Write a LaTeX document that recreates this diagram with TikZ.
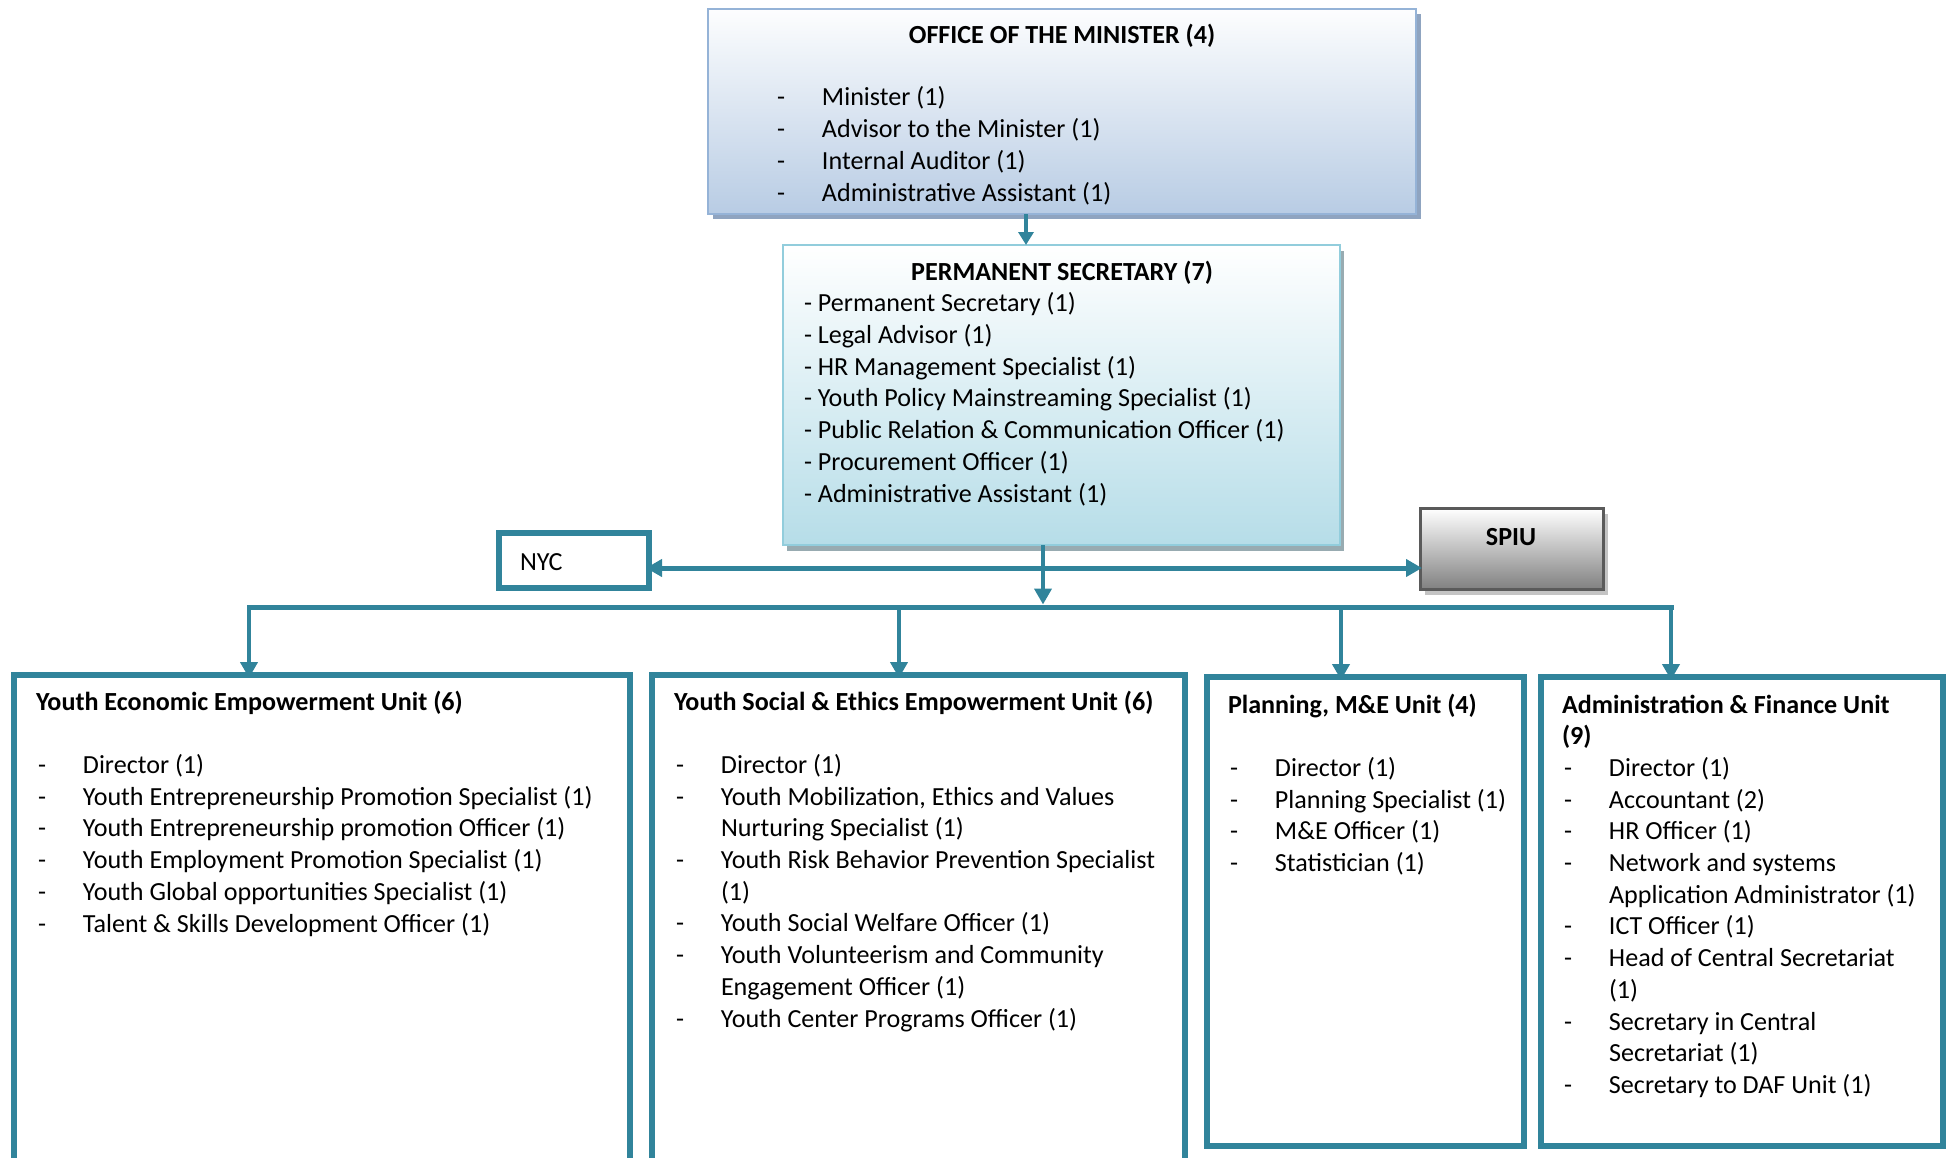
\documentclass[tikz,border=0pt]{standalone}
\usepackage{fontspec}
\setmainfont{Carlito}
\usetikzlibrary{arrows.meta,shadows}
\definecolor{tealL}{HTML}{31849B}
\definecolor{offB}{HTML}{B8CCE4}
\definecolor{offBorder}{HTML}{95B3D7}
\definecolor{offShadow}{HTML}{8FA4C0}
\definecolor{psB}{HTML}{B6DDE8}
\definecolor{psBorder}{HTML}{92CDDC}
\definecolor{psShadow}{HTML}{98ABB1}
\definecolor{spiuB}{HTML}{808080}
\definecolor{spiuBorder}{HTML}{5A5A5A}
\definecolor{spiuShadow}{HTML}{C4C4C4}
\newcommand\itm[1]{\makebox[47pt][l]{\hspace{2pt}-}#1}
\newcommand\cnt[1]{\makebox[47pt][l]{}#1}
\tikzset{
  txt/.style={inner sep=0pt, outer sep=0pt, align=left, anchor=base west,
    font=\fontsize{26.1}{31.7}\selectfont},
  boxN/.style={rectangle, inner sep=0pt, outer sep=0pt, anchor=north west},
  unitbox/.style={boxN, draw=tealL, line width=6pt, fill=white},
  conn/.style={draw=tealL, line width=4pt},
  tipA/.style={-{Triangle[length=16pt,width=17pt]}},
}
\begin{document}
\begin{tikzpicture}[x=1pt,y=-1pt]
\useasboundingbox (0,0) rectangle (1950,1157);
% boxes
\node[boxN, draw=offBorder, line width=2pt, top color=white!97!offB, bottom color=offB,
  minimum width=708pt, minimum height=205pt,
  drop shadow={shadow xshift=5pt, shadow yshift=-5pt, fill=offShadow, opacity=1}] (office) at (708,9) {};
\node[boxN, draw=psBorder, line width=2.5pt, top color=white, bottom color=psB,
  minimum width=557pt, minimum height=300pt,
  drop shadow={shadow xshift=4pt, shadow yshift=-6pt, fill=psShadow, opacity=1}] (ps) at (783,245) {};
\node[boxN, draw=tealL, line width=6pt, fill=white, minimum width=150pt, minimum height=55pt] (nyc) at (499,533) {};
\node[boxN, draw=spiuBorder, line width=3pt, top color=white, bottom color=spiuB,
  minimum width=183pt, minimum height=81pt,
  drop shadow={shadow xshift=4pt, shadow yshift=-5pt, fill=spiuShadow, opacity=1}] (spiu) at (1420.5,508.5) {};
\node[unitbox, minimum width=616pt, minimum height=510pt] (u1) at (14,675) {};
\node[unitbox, minimum width=533pt, minimum height=510pt] (u2) at (652,675) {};
\node[unitbox, minimum width=317pt, minimum height=469pt] (u3) at (1207,677) {};
\node[unitbox, minimum width=402pt, minimum height=469pt] (u4) at (1541,677) {};
% coordinates
\coordinate (a1) at (1026,0);
\coordinate (s1) at (1043,0);
\coordinate (dy) at (0,568);
\coordinate (busL) at (249,607);
\coordinate (busR) at (1671,607);
\coordinate (b2) at (899,607);
\coordinate (b3) at (1341,607);
% connectors
\draw[conn, line width=4pt, -{Triangle[length=13pt,width=15pt]}] (office.south -| a1) -- (ps.north -| a1);
\draw[conn, line width=5pt, line cap=rect] (busL) -- (busR);
\draw[conn, line width=4.5pt, tipA, shorten >=2.5pt] (ps.south -| s1) -- (s1 |- busL);
\draw[conn, line width=5pt, {Triangle[length=16pt,width=17pt]}-{Triangle[length=16pt,width=17pt]},
  shorten <=-3pt, shorten >=-1.5pt] (nyc.east |- dy) -- (spiu.west |- dy);
\draw[conn, line width=4pt, tipA, shorten >=-3pt] (busL) -- (u1.north -| busL);
\draw[conn, line width=4pt, tipA, shorten >=-3pt] (b2) -- (u2.north -| b2);
\draw[conn, line width=4pt, tipA, shorten >=-3pt] (b3) -- (u3.north -| b3);
\draw[conn, line width=4pt, tipA, shorten >=-3pt] (busR) -- (u4.north -| busR);
% texts (base anchor = baseline of the last line)
\node[txt, anchor=base, font=\fontsize{26.1}{31.7}\selectfont\bfseries] (offt) at (1062,43) {OFFICE OF THE MINISTER (4)};
\node[txt] (offi) at (775,201) {\itm{Minister (1)}\\ \itm{Advisor to the Minister (1)}\\ \itm{Internal Auditor (1)}\\ \itm{Administrative Assistant (1)}};
\node[txt, anchor=base, font=\fontsize{26.1}{31.7}\selectfont\bfseries] (pst) at (1062,280) {PERMANENT SECRETARY (7)};
\node[txt] (psi) at (804,502) {- Permanent Secretary (1)\\ - Legal Advisor (1)\\ - HR Management Specialist (1)\\ - Youth Policy Mainstreaming Specialist (1)\\ - Public Relation \& Communication Officer (1)\\ - Procurement Officer (1)\\ - Administrative Assistant (1)};
\node[txt] (nyct) at (520,570) {NYC};
\node[txt, anchor=base, font=\fontsize{26.1}{31.7}\selectfont\bfseries] (spiut) at (1511,545) {SPIU};
\node[txt] (u1t) at (36,932) {\textbf{Youth Economic Empowerment Unit (6)}\\[31.7pt]
  \itm{Director (1)}\\ \itm{Youth Entrepreneurship Promotion Specialist (1)}\\
  \itm{Youth Entrepreneurship promotion Officer (1)}\\ \itm{Youth Employment Promotion Specialist (1)}\\
  \itm{Youth Global opportunities Specialist (1)}\\ \itm{Talent \& Skills Development Officer (1)}};
\node[txt] (u2t) at (674,1027) {\textbf{Youth Social \& Ethics Empowerment Unit (6)}\\[31.7pt]
  \itm{Director (1)}\\ \itm{Youth Mobilization, Ethics and Values}\\ \cnt{Nurturing Specialist (1)}\\
  \itm{Youth Risk Behavior Prevention Specialist}\\ \cnt{(1)}\\
  \itm{Youth Social Welfare Officer (1)}\\ \itm{Youth Volunteerism and Community}\\ \cnt{Engagement Officer (1)}\\
  \itm{Youth Center Programs Officer (1)}};
\node[txt] (u3t) at (1228,871.5) {\textbf{Planning, M\&E Unit (4)}\\[31.7pt]
  \itm{Director (1)}\\ \itm{Planning Specialist (1)}\\ \itm{M\&E Officer (1)}\\ \itm{Statistician (1)}};
\node[txt] (u4t) at (1562,1093.4) {\textbf{Administration \& Finance Unit}\\ \textbf{(9)}\\
  \itm{Director (1)}\\ \itm{Accountant (2)}\\ \itm{HR Officer (1)}\\ \itm{Network and systems}\\ \cnt{Application Administrator (1)}\\
  \itm{ICT Officer (1)}\\ \itm{Head of Central Secretariat}\\ \cnt{(1)}\\ \itm{Secretary in Central}\\ \cnt{Secretariat (1)}\\
  \itm{Secretary to DAF Unit (1)}};
\end{tikzpicture}
\end{document}
